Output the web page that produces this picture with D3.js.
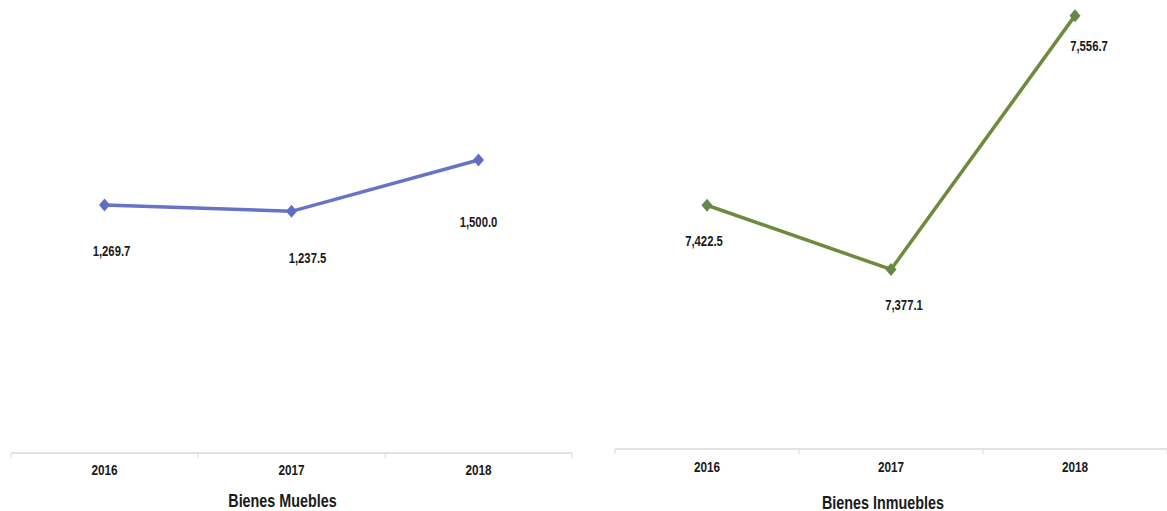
<!DOCTYPE html>
<html><head><meta charset="utf-8">
<script src="https://cdn.jsdelivr.net/npm/d3@7"></script>
<style>
body{margin:0;background:#fff;}
text{font-family:"Liberation Sans",Arial,sans-serif;font-weight:bold;fill:#1a1a1a;}
</style></head>
<body><svg id="c" width="1167" height="511"></svg>
<script>
const years = ["2016","2017","2018"];
const mueblesValues = [1269.7, 1237.5, 1500.0];
const inmueblesValues = [7422.5, 7377.1, 7556.7];
const titles = ["Bienes Muebles","Bienes Inmuebles"];

const svg = d3.select("#c");
const fmt = d3.format(",.1f");

const panels = [
  {values: mueblesValues, title: titles[0], x0: 11, x1: 572, yBase: 453, domain:[0,2000], pxPerUnit:0.1953,
   line:"#6673c8", marker:"#5f6ec4", yearY:475, titleY:507, titleDx:-9,
   offsets:[[7,51],[16,52],[0,67]]},
  {values: inmueblesValues, title: titles[1], x0: 615, x1: 1167, yBase: 449, domain:[7250,7600], pxPerUnit:1.413,
   line:"#6f8a3c", marker:"#67874a", yearY:472, titleY:509, titleDx:-8,
   offsets:[[-3,41],[13,41],[14,35]]}
];

panels.forEach(p => {
  const g = svg.append("g");
  const x = d3.scaleBand().domain(years).range([p.x0, p.x1]).padding(0);
  const y = d3.scaleLinear().domain(p.domain)
    .range([p.yBase, p.yBase - (p.domain[1]-p.domain[0])*p.pxPerUnit]);
  const cx = d => x(d) + x.bandwidth()/2;

  // axis line
  g.append("line").attr("x1", p.x0).attr("x2", p.x1).attr("y1", p.yBase).attr("y2", p.yBase)
    .attr("stroke", "#d9d9d9").attr("stroke-width", 1.3);
  const bounds = years.map(d => x(d)).concat([x(years[years.length-1]) + x.bandwidth()]);
  g.selectAll(".tk").data(bounds).join("line")
    .attr("x1", d => d).attr("x2", d => d).attr("y1", p.yBase).attr("y2", p.yBase + 5)
    .attr("stroke", "#d9d9d9").attr("stroke-width", 1);
  g.selectAll(".yr").data(years).join("text")
    .attr("transform", d => `translate(${cx(d)},${p.yearY}) scale(0.76,1)`)
    .attr("text-anchor", "middle").attr("font-size", 15.5).text(d => d);
  g.append("text")
    .attr("transform", `translate(${(p.x0 + p.x1)/2 + p.titleDx},${p.titleY}) scale(0.82,1)`)
    .attr("text-anchor", "middle").attr("font-size", 17.5).text(p.title);

  const data = years.map((d,i) => ({year:d, v:p.values[i], off:p.offsets[i]}));
  g.append("path").datum(data)
    .attr("fill", "none").attr("stroke", p.line).attr("stroke-width", 3.5)
    .attr("d", d3.line().x(d => cx(d.year)).y(d => y(d.v)));
  g.selectAll(".mk").data(data).join("path")
    .attr("transform", d => `translate(${cx(d.year)},${y(d.v)})`)
    .attr("d", "M0,-6.5L5.5,0L0,6.5L-5.5,0Z").attr("fill", p.marker);
  g.selectAll(".lb").data(data).join("text")
    .attr("transform", d => `translate(${cx(d.year) + d.off[0]},${y(d.v) + d.off[1]}) scale(0.73,1)`)
    .attr("text-anchor", "middle").attr("font-size", 15.5)
    .text(d => fmt(d.v));
});
</script></body></html>
